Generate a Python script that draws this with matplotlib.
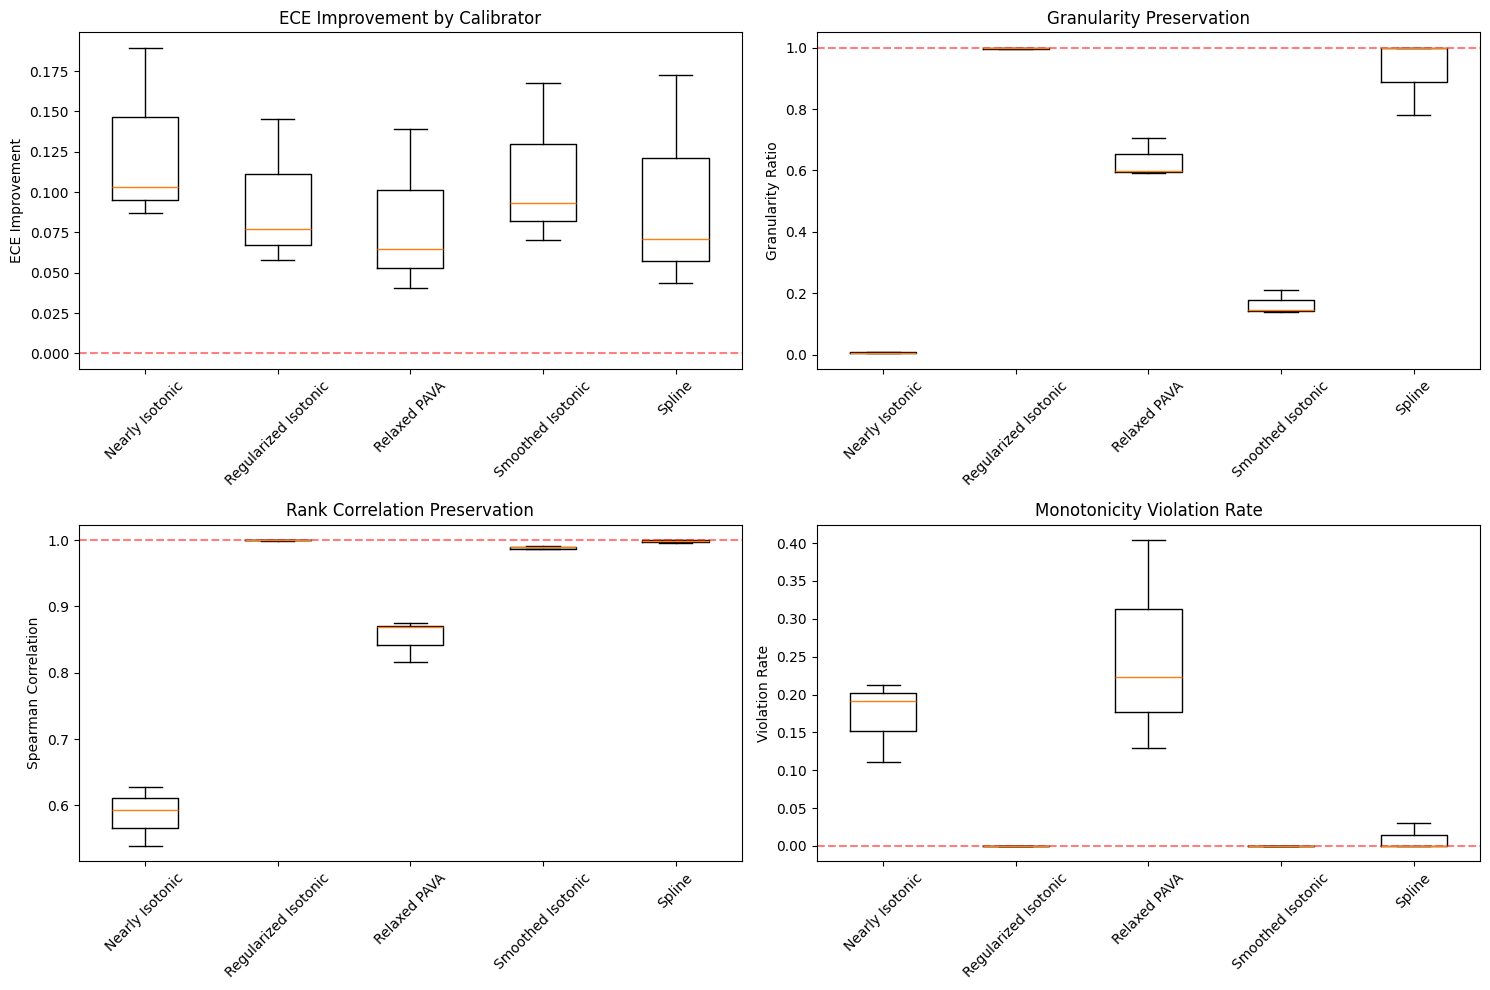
import matplotlib
matplotlib.use("Agg")
import matplotlib.pyplot as plt

calibrators = ["Nearly Isotonic", "Regularized Isotonic", "Relaxed PAVA", "Smoothed Isotonic", "Spline"]

# box stats: (whislo, q1, med, q3, whishi)
ece_stats = [
    (0.0871, 0.0952, 0.1033, 0.1463, 0.1895),
    (0.0578, 0.0673, 0.0771, 0.1114, 0.1451),
    (0.0403, 0.0528, 0.0646, 0.1014, 0.1388),
    (0.0702, 0.0821, 0.0933, 0.1299, 0.1675),
    (0.0434, 0.0571, 0.0709, 0.1214, 0.1727),
]
gran_stats = [
    (0.004, 0.005, 0.006, 0.007, 0.008),
    (0.996, 0.997, 0.999, 1.000, 1.000),
    (0.592, 0.595, 0.597, 0.6525, 0.705),
    (0.138, 0.1427, 0.145, 0.1786, 0.209),
    (0.780, 0.888, 1.000, 1.000, 1.000),
]
rank_stats = [
    (0.539, 0.5662, 0.593, 0.6106, 0.6277),
    (0.999, 0.9995, 1.000, 1.000, 1.000),
    (0.8166, 0.8423, 0.8685, 0.871, 0.8746),
    (0.9864, 0.987, 0.989, 0.9894, 0.991),
    (0.996, 0.9975, 0.999, 1.000, 1.000),
]
viol_stats = [
    (0.111, 0.1518, 0.1916, 0.2022, 0.212),
    (0.0, 0.0, 0.0, 0.0, 0.0),
    (0.130, 0.177, 0.2226, 0.3124, 0.404),
    (0.0, 0.0, 0.0, 0.0, 0.0),
    (0.0, 0.0, 0.0, 0.015, 0.030),
]

panels = [
    (ece_stats, "ECE Improvement by Calibrator", "ECE Improvement", 0.0),
    (gran_stats, "Granularity Preservation", "Granularity Ratio", 1.0),
    (rank_stats, "Rank Correlation Preservation", "Spearman Correlation", 1.0),
    (viol_stats, "Monotonicity Violation Rate", "Violation Rate", 0.0),
]


def to_bxp(stats):
    out = []
    for name, (lo, q1, med, q3, hi) in zip(calibrators, stats):
        out.append({"label": name, "whislo": lo, "q1": q1, "med": med,
                    "q3": q3, "whishi": hi, "fliers": []})
    return out


fig, axes = plt.subplots(2, 2, figsize=(14.9, 9.9), dpi=100)

for ax, (stats, title, ylabel, ref) in zip(axes.flat, panels):
    ax.bxp(to_bxp(stats), showfliers=False)
    ax.axhline(y=ref, color="r", linestyle="--", alpha=0.5)
    ax.set_title(title)
    ax.set_ylabel(ylabel)
    ax.tick_params(axis="x", rotation=45)

plt.tight_layout(pad=0.72, h_pad=1.08, w_pad=1.08)
plt.savefig("out.png")
